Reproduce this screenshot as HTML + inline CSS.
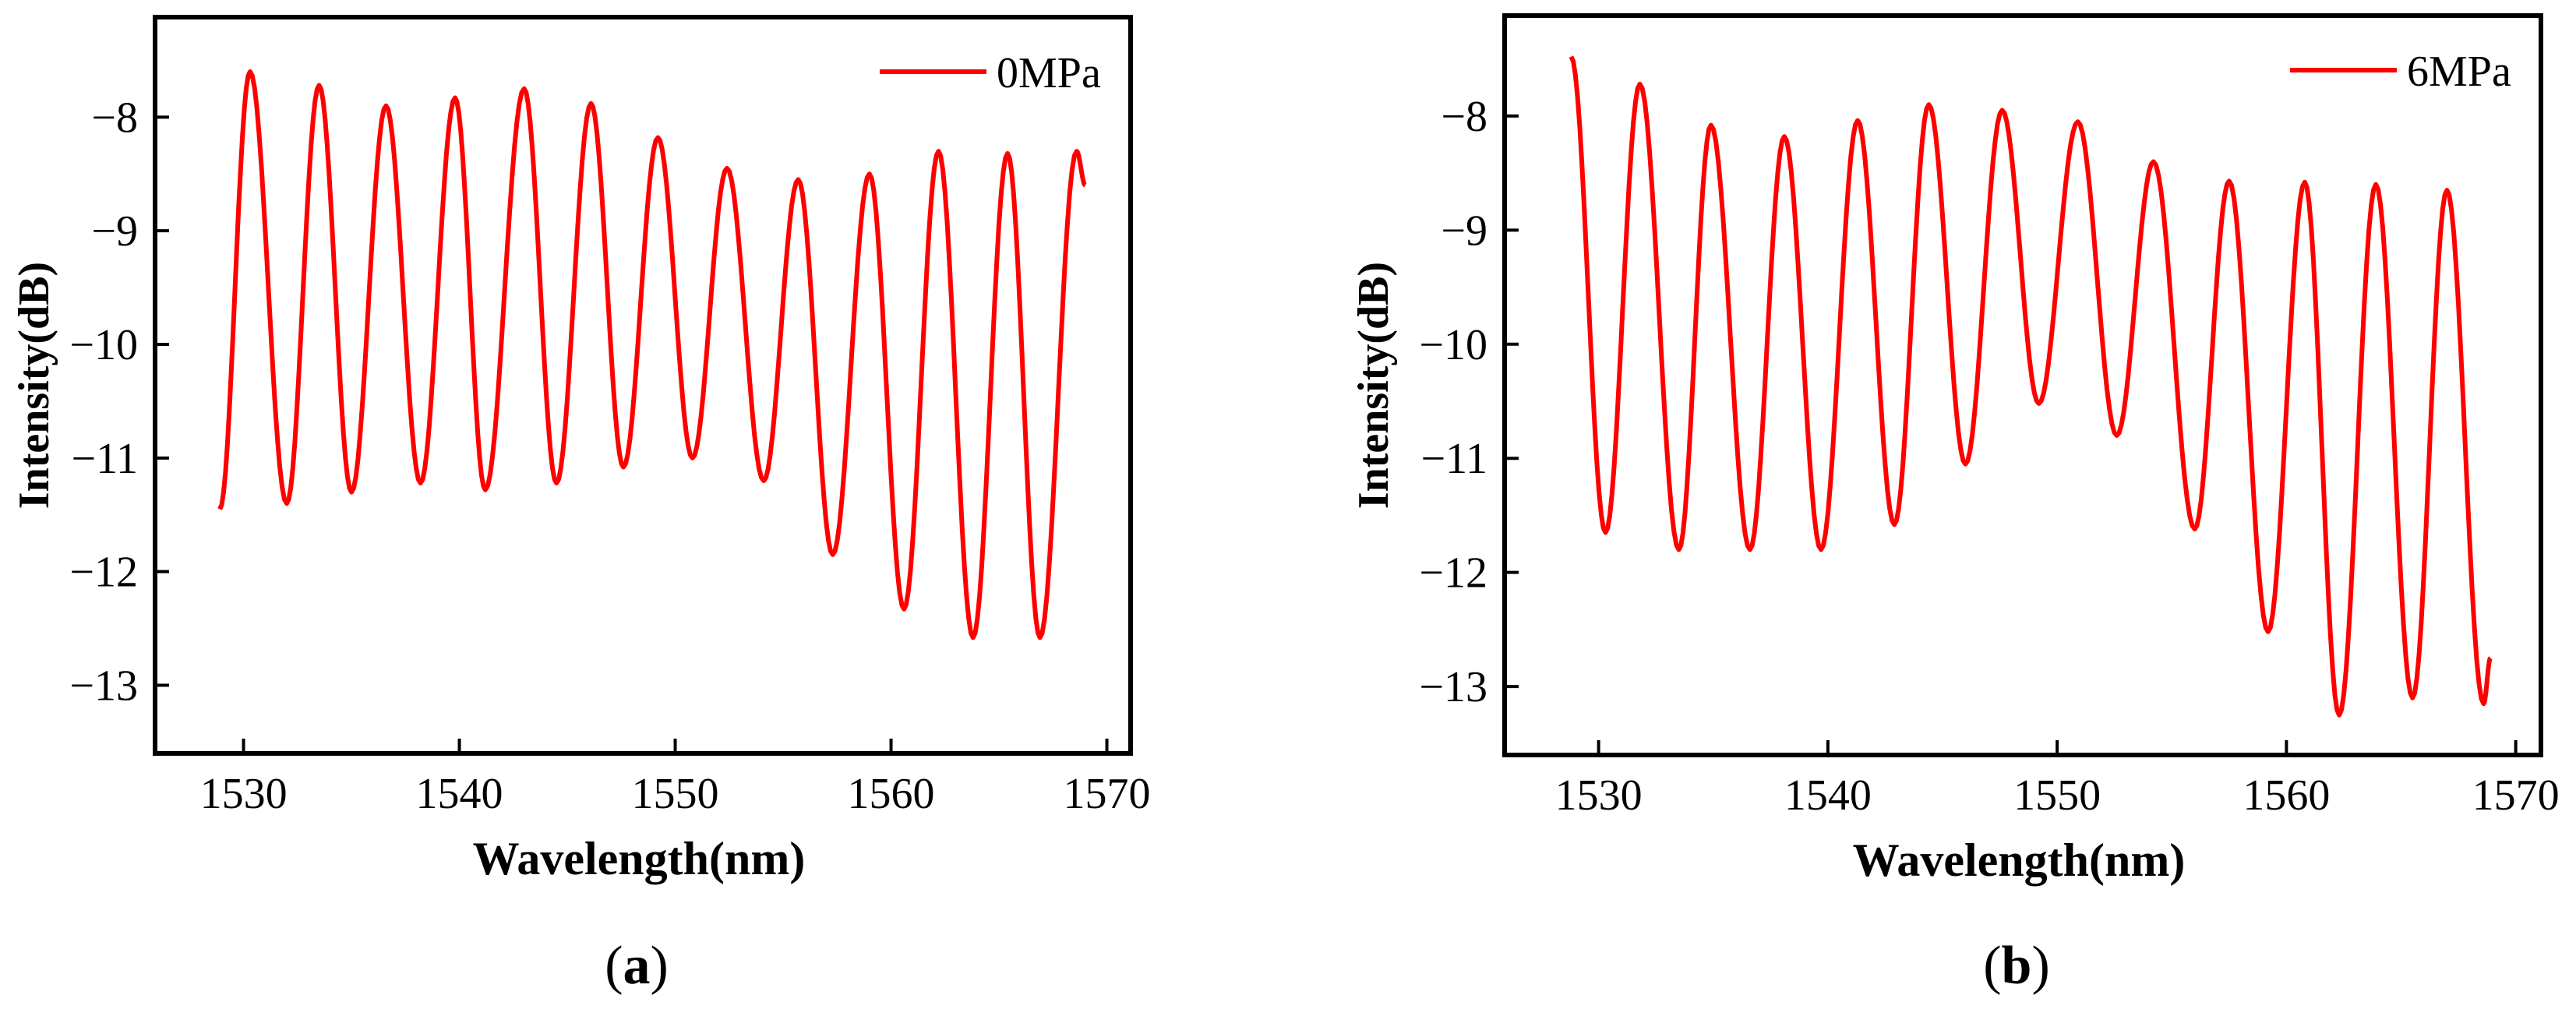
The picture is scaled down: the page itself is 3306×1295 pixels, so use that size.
<!DOCTYPE html>
<html><head><meta charset="utf-8"><style>
html,body{margin:0;padding:0;background:#fff;}
svg{display:block;font-family:"Liberation Serif",serif;}
</style></head><body>
<svg id="fig" width="3306" height="1295" viewBox="0 0 3306 1295" xmlns="http://www.w3.org/2000/svg"></svg>
<script>
// Panel (a) 0MPa: extrema sequence (wavelength nm, intensity dB)
const aWave = [1528.9,1530.3,1532.0,1533.5,1535.0,1536.6,1538.2,1539.8,1541.2,1543.0,1544.5,1546.1,1547.6,1549.2,1550.8,1552.4,1554.1,1555.7,1557.3,1559.0,1560.6,1562.2,1563.8,1565.4,1566.9,1568.6,1569.0];
const aVal  = [-11.45,-7.6,-11.4,-7.72,-11.3,-7.9,-11.22,-7.83,-11.28,-7.75,-11.22,-7.88,-11.08,-8.18,-11.0,-8.45,-11.2,-8.55,-11.85,-8.5,-12.33,-8.3,-12.58,-8.32,-12.58,-8.3,-8.6];
// Panel (b) 6MPa
const bWave = [1528.8,1530.3,1531.8,1533.5,1534.9,1536.6,1538.1,1539.7,1541.3,1542.9,1544.4,1546.0,1547.6,1549.2,1550.9,1552.6,1554.2,1556.0,1557.5,1559.2,1560.8,1562.3,1563.9,1565.5,1567.0,1568.6,1568.9];
const bVal  = [-7.48,-11.65,-7.72,-11.8,-8.08,-11.8,-8.18,-11.8,-8.04,-11.58,-7.9,-11.05,-7.95,-10.52,-8.05,-10.8,-8.4,-11.62,-8.57,-12.52,-8.58,-13.25,-8.6,-13.1,-8.65,-13.15,-12.75];
const xTicks = [1530,1540,1550,1560,1570];
const yTicks = [-8,-9,-10,-11,-12,-13];
const xDomain = [1525.9,1571.1];
const yDomain = [-13.6,-7.12];

const NS="http://www.w3.org/2000/svg";
const svg=document.getElementById('fig');
function mk(tag,attrs,parent){const e=document.createElementNS(NS,tag);for(const k in attrs)e.setAttribute(k,attrs[k]);(parent||svg).appendChild(e);return e;}

function panel(id,L,R,T,B,wave,vals,label,legendName,letter,ytitleX){
  const g=mk('g',{});
  
  
  const sx=v=>L+(v-xDomain[0])/(xDomain[1]-xDomain[0])*(R-L);
  const sy=v=>B-(v-yDomain[0])/(yDomain[1]-yDomain[0])*(B-T);
  let d='M'+sx(wave[0]).toFixed(1)+','+sy(vals[0]).toFixed(1);
  for(let i=0;i<wave.length-1;i++){
    const x0=wave[i],x1=wave[i+1],y0=vals[i],y1=vals[i+1];
    for(let k=1;k<=16;k++){const t=k/16;const x=x0+(x1-x0)*t;const y=y0+(y1-y0)*(1-Math.cos(Math.PI*t))/2;d+=' L'+sx(x).toFixed(1)+','+sy(y).toFixed(1);}
  }
  const p=mk('path',{d:d,fill:'none',stroke:'#ff0000','stroke-width':6,'stroke-linejoin':'round'},g);
  
  
  const f=mk('rect',{x:L,y:T,width:R-L,height:B-T,fill:'none',stroke:'#000','stroke-width':6},g);
  
  
  xTicks.forEach(v=>{
    const x=sx(v);
    const tk=mk('line',{x1:x,x2:x,y1:B,y2:B-19,stroke:'#000','stroke-width':4},g);
    
    
    const t=mk('text',{x:x,y:B+70,'font-size':56,'text-anchor':'middle'},g);t.textContent=v;
    
    
  });
  yTicks.forEach(v=>{
    const y=sy(v);
    const tk=mk('line',{x1:L,x2:L+18,y1:y,y2:y,stroke:'#000','stroke-width':4},g);
    
    
    const t=mk('text',{x:L-22,y:y+19,'font-size':56,'text-anchor':'end'},g);t.textContent='\u2212'+Math.abs(v);
    
    
  });
  const xt=mk('text',{x:(L+R)/2-5,y:B+155,'font-size':60,'font-weight':'bold','text-anchor':'middle'},g);xt.textContent='Wavelength(nm)';
  
  
  const yc=(T+B)/2;
  const yt=mk('text',{x:ytitleX,y:yc,'font-size':56,'font-weight':'bold','text-anchor':'middle',transform:'rotate(-90 '+ytitleX+' '+yc+')','dominant-baseline':'central'},g);yt.textContent='Intensity(dB)';
  
  
  const lg=mk('g',{},g);
  
  
  mk('line',{x1:R-322,x2:R-185,y1:T+70,y2:T+70,stroke:'#ff0000','stroke-width':6},lg);
  const lt=mk('text',{x:R-172,y:T+90,'font-size':56},lg);lt.textContent=legendName;
  const ct=mk('text',{x:(L+R)/2-8,y:1262,'font-size':70,'text-anchor':'middle'},g);
  ct.innerHTML='(<tspan font-weight="bold">'+letter+'</tspan>)';
  
  
}
panel('a',199,1451,22,967,aWave,aVal,'a','0MPa','a',44);
panel('b',1931,3261,20,969,bWave,bVal,'b','6MPa','b',1763);
</script>
</body></html>
